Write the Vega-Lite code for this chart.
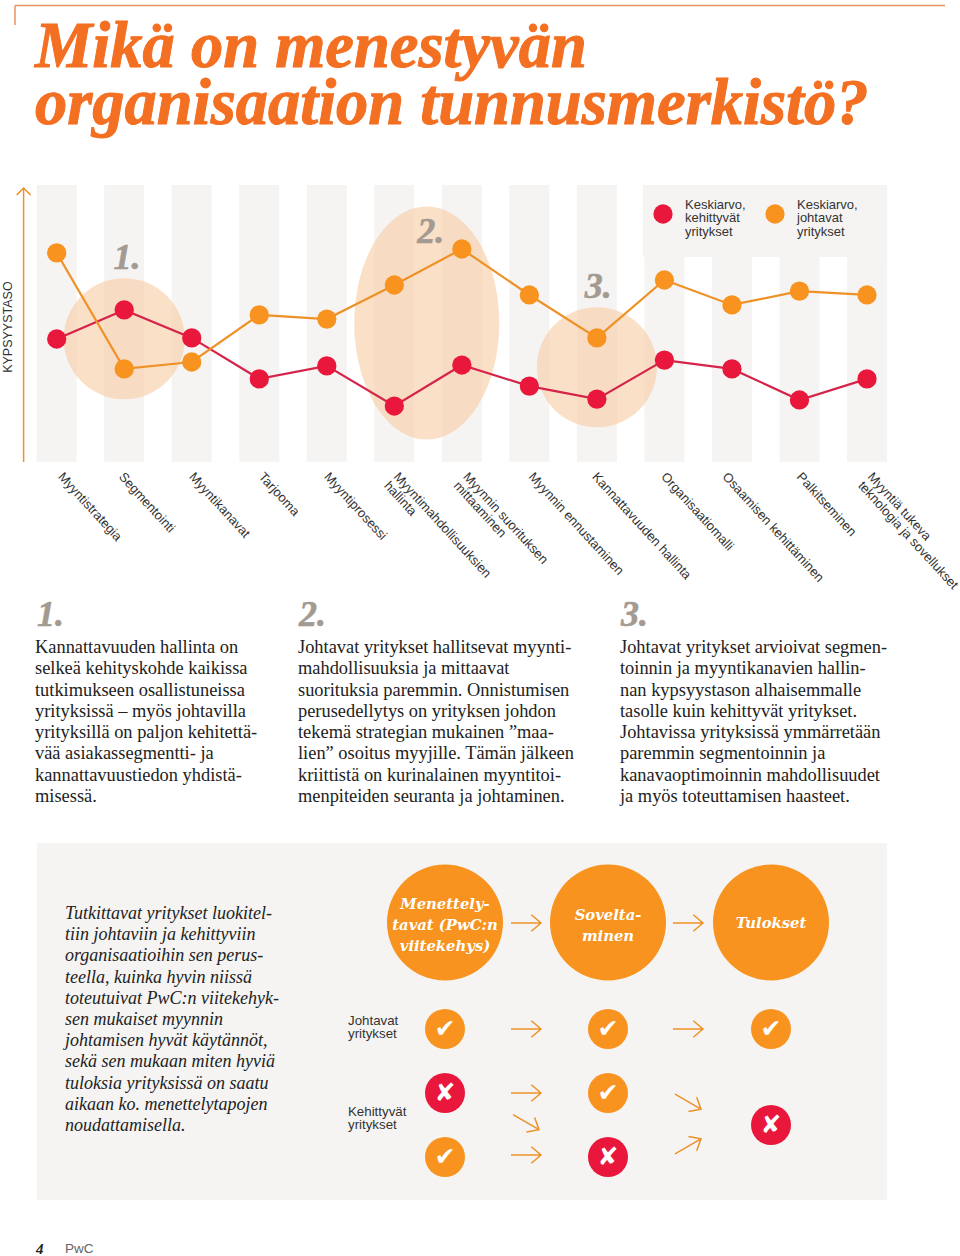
{
"$schema":"https://vega.github.io/schema/vega-lite/v6.json",
"width":960,"height":1256,"padding":0,"autosize":"none","background":"white",
"config":{"view":{"stroke":null}},
"resolve":{"scale":{"x":"independent","y":"independent","color":"independent"}},
"datasets":{
"categories":[
{"pos":1,"labelPos":1.06,"label":["Myyntistrategia"]},{"pos":2,"labelPos":1.96,"label":["Segmentointi"]},{"pos":3,"labelPos":3,"label":["Myyntikanavat"]},{"pos":4,"labelPos":4.03,"label":["Tarjooma"]},{"pos":5,"labelPos":5,"label":["Myyntiprosessi"]},{"pos":6,"labelPos":6.03,"label":["Myyntimahdollisuuksien","hallinta"]},{"pos":7,"labelPos":7.06,"label":["Myynnin suorituksen","mittaaminen"]},{"pos":8,"labelPos":8.03,"label":["Myynnin ennustaminen"]},{"pos":9,"labelPos":8.97,"label":["Kannattavuuden hallinta"]},{"pos":10,"labelPos":9.99,"label":["Organisaatiomalli"]},{"pos":11,"labelPos":10.9,"label":["Osaamisen kehittäminen"]},{"pos":12,"labelPos":12,"label":["Palkitseminen"]},{"pos":13,"labelPos":13.05,"label":["Myyntiä tukeva","teknologia ja sovellukset"]}],
"averages":[
{"pos":1,"series":"kehittyvät","value":44.4},{"pos":2,"series":"kehittyvät","value":54.9},{"pos":3,"series":"kehittyvät","value":44.8},{"pos":4,"series":"kehittyvät","value":30.0},{"pos":5,"series":"kehittyvät","value":34.7},{"pos":6,"series":"kehittyvät","value":20.2},{"pos":7,"series":"kehittyvät","value":35.0},{"pos":8,"series":"kehittyvät","value":27.4},{"pos":9,"series":"kehittyvät","value":22.7},{"pos":10,"series":"kehittyvät","value":36.8},{"pos":11,"series":"kehittyvät","value":33.6},{"pos":12,"series":"kehittyvät","value":22.4},{"pos":13,"series":"kehittyvät","value":30.0},
{"pos":1,"series":"johtavat","value":75.5},{"pos":2,"series":"johtavat","value":33.6},{"pos":3,"series":"johtavat","value":36.1},{"pos":4,"series":"johtavat","value":53.1},{"pos":5,"series":"johtavat","value":51.6},{"pos":6,"series":"johtavat","value":63.9},{"pos":7,"series":"johtavat","value":76.9},{"pos":8,"series":"johtavat","value":60.3},{"pos":9,"series":"johtavat","value":44.8},{"pos":10,"series":"johtavat","value":65.7},{"pos":11,"series":"johtavat","value":56.7},{"pos":12,"series":"johtavat","value":61.7},{"pos":13,"series":"johtavat","value":60.3}],
"paragraphs":[
{"col":1,"line":1,"text":"Kannattavuuden hallinta on"},{"col":1,"line":2,"text":"selkeä kehityskohde kaikissa"},{"col":1,"line":3,"text":"tutkimukseen osallistuneissa"},{"col":1,"line":4,"text":"yrityksissä – myös johtavilla"},{"col":1,"line":5,"text":"yrityksillä on paljon kehitettä-"},{"col":1,"line":6,"text":"vää asiakassegmentti- ja"},{"col":1,"line":7,"text":"kannattavuustiedon yhdistä-"},{"col":1,"line":8,"text":"misessä."},
{"col":2,"line":1,"text":"Johtavat yritykset hallitsevat myynti-"},{"col":2,"line":2,"text":"mahdollisuuksia ja mittaavat"},{"col":2,"line":3,"text":"suorituksia paremmin. Onnistumisen"},{"col":2,"line":4,"text":"perusedellytys on yrityksen johdon"},{"col":2,"line":5,"text":"tekemä strategian mukainen ”maa-"},{"col":2,"line":6,"text":"lien” osoitus myyjille. Tämän jälkeen"},{"col":2,"line":7,"text":"kriittistä on kurinalainen myyntitoi-"},{"col":2,"line":8,"text":"menpiteiden seuranta ja johtaminen."},
{"col":3,"line":1,"text":"Johtavat yritykset arvioivat segmen-"},{"col":3,"line":2,"text":"toinnin ja myyntikanavien hallin-"},{"col":3,"line":3,"text":"nan kypsyystason alhaisemmalle"},{"col":3,"line":4,"text":"tasolle kuin kehittyvät yritykset."},{"col":3,"line":5,"text":"Johtavissa yrityksissä ymmärretään"},{"col":3,"line":6,"text":"paremmin segmentoinnin ja"},{"col":3,"line":7,"text":"kanavaoptimoinnin mahdollisuudet"},{"col":3,"line":8,"text":"ja myös toteuttamisen haasteet."}],
"intro":[
{"line":1,"text":"Tutkittavat yritykset luokitel-"},{"line":2,"text":"tiin johtaviin ja kehittyviin"},{"line":3,"text":"organisaatioihin sen perus-"},{"line":4,"text":"teella, kuinka hyvin niissä"},{"line":5,"text":"toteutuivat PwC:n viitekehyk-"},{"line":6,"text":"sen mukaiset myynnin"},{"line":7,"text":"johtamisen hyvät käytännöt,"},{"line":8,"text":"sekä sen mukaan miten hyviä"},{"line":9,"text":"tuloksia yrityksissä on saatu"},{"line":10,"text":"aikaan ko. menettelytapojen"},{"line":11,"text":"noudattamisella."}],
"stages":[
{"stage":1,"row":0},{"stage":2,"row":0},{"stage":3,"row":0}],
"outcomes":[
{"stage":1,"row":1,"result":"ok","mark":"✔"},{"stage":2,"row":1,"result":"ok","mark":"✔"},{"stage":3,"row":1,"result":"ok","mark":"✔"},
{"stage":1,"row":2,"result":"fail","mark":"✘"},{"stage":2,"row":2,"result":"ok","mark":"✔"},
{"stage":1,"row":3,"result":"ok","mark":"✔"},{"stage":2,"row":3,"result":"fail","mark":"✘"},
{"stage":3,"row":2.5,"result":"fail","mark":"✘"}]
},
"layer":[
{"data":{"values":[{}]},
 "layer":[
  {"mark":{"type":"rule","stroke":"#e8935f","strokeWidth":1.5},
   "encoding":{"x":{"datum":0,"type":"quantitative","axis":null,"scale":{"domain":[0,1],"range":[15,945],"nice":false,"zero":false}},"x2":{"datum":1},"y":{"datum":0,"type":"quantitative","axis":null,"scale":{"domain":[0,1],"range":[5.5,25],"nice":false,"zero":false}}}},
  {"mark":{"type":"rule","stroke":"#e8935f","strokeWidth":1.5},
   "encoding":{"x":{"datum":0,"type":"quantitative","axis":null,"scale":{"domain":[0,1],"range":[15,945],"nice":false,"zero":false}},"y":{"datum":0,"type":"quantitative","axis":null,"scale":{"domain":[0,1],"range":[5.5,25],"nice":false,"zero":false}},"y2":{"datum":1}}}
 ]},
{"data":{"values":[{"line":1,"text":"Mikä on menestyvän"},{"line":2,"text":"organisaation tunnusmerkistö?"}]},
 "mark":{"type":"text","font":"Liberation Serif","fontWeight":"bold","fontStyle":"italic","fontSize":64.5,"align":"left","baseline":"middle","fill":"#f36f21","stroke":"#f36f21","strokeWidth":1},
 "encoding":{"x":{"datum":1,"type":"quantitative","axis":null,"scale":{"domain":[0,1],"range":[0,35],"nice":false,"zero":false}},"y":{"field":"line","type":"quantitative","axis":null,"scale":{"domain":[1,2],"range":[48,105],"nice":false,"zero":false}},"text":{"field":"text"}}},
{"data":{"name":"categories"},
 "resolve":{"scale":{"color":"independent"}},
 "layer":[
  {"mark":{"type":"bar","width":40,"fill":"#f5f4f2","orient":"vertical"},
   "encoding":{"x":{"field":"pos","type":"quantitative","axis":null,"scale":{"domain":[1,13],"range":[56.7,867],"nice":false,"zero":false,"padding":0}},"y":{"datum":0,"type":"quantitative","axis":null,"scale":{"domain":[0,100],"range":[462,185],"nice":false,"zero":false}},"y2":{"datum":100}}},
  {"data":{"values":[{"from":9.68,"to":13.3,"low":74,"high":100}]},
   "mark":{"type":"rect","fill":"#f5f4f2"},
   "encoding":{"x":{"field":"from","type":"quantitative","axis":null,"scale":{"domain":[1,13],"range":[56.7,867],"nice":false,"zero":false,"padding":0}},"x2":{"field":"to"},"y":{"field":"low","type":"quantitative","axis":null,"scale":{"domain":[0,100],"range":[462,185],"nice":false,"zero":false}},"y2":{"field":"high"}}},
  {"data":{"values":[{"pos":2,"value":44.5}]},
   "mark":{"type":"point","filled":true,"fill":"#f7c79a","opacity":0.55,"strokeWidth":0,"shape":"circle","size":14641},
   "encoding":{"x":{"field":"pos","type":"quantitative","axis":null,"scale":{"domain":[1,13],"range":[56.7,867],"nice":false,"zero":false,"padding":0}},"y":{"field":"value","type":"quantitative","axis":null,"scale":{"domain":[0,100],"range":[462,185],"nice":false,"zero":false}}}},
  {"data":{"values":[{"pos":6.48,"value":50.2}]},
   "mark":{"type":"point","filled":true,"fill":"#f7c79a","opacity":0.55,"strokeWidth":0,"shape":"M-0.622,0A0.622,1,0,1,1,0.622,0A0.622,1,0,1,1,-0.622,0Z","size":54289},
   "encoding":{"x":{"field":"pos","type":"quantitative","axis":null,"scale":{"domain":[1,13],"range":[56.7,867],"nice":false,"zero":false,"padding":0}},"y":{"field":"value","type":"quantitative","axis":null,"scale":{"domain":[0,100],"range":[462,185],"nice":false,"zero":false}}}},
  {"data":{"values":[{"pos":9,"value":34.2}]},
   "mark":{"type":"point","filled":true,"fill":"#f7c79a","opacity":0.55,"strokeWidth":0,"shape":"circle","size":14400},
   "encoding":{"x":{"field":"pos","type":"quantitative","axis":null,"scale":{"domain":[1,13],"range":[56.7,867],"nice":false,"zero":false,"padding":0}},"y":{"field":"value","type":"quantitative","axis":null,"scale":{"domain":[0,100],"range":[462,185],"nice":false,"zero":false}}}},
  {"data":{"name":"averages"},
   "mark":{"type":"line","strokeWidth":2.2},
   "encoding":{"x":{"field":"pos","type":"quantitative","axis":null,"scale":{"domain":[1,13],"range":[56.7,867],"nice":false,"zero":false,"padding":0}},"y":{"field":"value","type":"quantitative","axis":null,"scale":{"domain":[0,100],"range":[462,185],"nice":false,"zero":false}},"color":{"field":"series","type":"nominal","legend":null,"scale":{"domain":["kehittyvät","johtavat"],"range":["#d5234a","#ee9127"]}}}},
  {"data":{"name":"averages"},
   "mark":{"type":"circle","size":372,"opacity":1},
   "encoding":{"x":{"field":"pos","type":"quantitative","axis":null,"scale":{"domain":[1,13],"range":[56.7,867],"nice":false,"zero":false,"padding":0}},"y":{"field":"value","type":"quantitative","axis":null,"scale":{"domain":[0,100],"range":[462,185],"nice":false,"zero":false}},"color":{"field":"series","type":"nominal","legend":null,"scale":{"domain":["kehittyvät","johtavat"],"range":["#e8173b","#f7931e"]}}}},
  {"data":{"values":[{"pos":2.04,"value":73.6,"text":"1."},{"pos":6.54,"value":83,"text":"2."},{"pos":9.02,"value":63,"text":"3."}]},
   "mark":{"type":"text","font":"Liberation Serif","fontWeight":"bold","fontStyle":"italic","fontSize":36,"align":"center","baseline":"middle","fill":"#a39a92","stroke":"#a39a92","strokeWidth":0.6},
   "encoding":{"x":{"field":"pos","type":"quantitative","axis":null,"scale":{"domain":[1,13],"range":[56.7,867],"nice":false,"zero":false,"padding":0}},"y":{"field":"value","type":"quantitative","axis":null,"scale":{"domain":[0,100],"range":[462,185],"nice":false,"zero":false}},"text":{"field":"text"}}},
  {"mark":{"type":"text","font":"Liberation Sans","fontSize":13,"align":"left","baseline":"top","angle":47.5,"lineHeight":13,"fill":"#333333","xOffset":4},
   "encoding":{"x":{"field":"labelPos","type":"quantitative","axis":null,"scale":{"domain":[1,13],"range":[56.7,867],"nice":false,"zero":false,"padding":0}},"y":{"datum":-3.1,"type":"quantitative","axis":null,"scale":{"domain":[0,100],"range":[462,185],"nice":false,"zero":false}},"text":{"field":"label"}}},
  {"data":{"values":[{"pos":0.51,"low":0,"high":98.9}]},
   "mark":{"type":"rule","stroke":"#ee9127","strokeWidth":1.5},
   "encoding":{"x":{"field":"pos","type":"quantitative","axis":null,"scale":{"domain":[1,13],"range":[56.7,867],"nice":false,"zero":false,"padding":0}},"y":{"field":"low","type":"quantitative","axis":null,"scale":{"domain":[0,100],"range":[462,185],"nice":false,"zero":false}},"y2":{"field":"high"}}},
  {"data":{"values":[{"pos":0.51,"value":98.9}]},
   "mark":{"type":"point","filled":false,"stroke":"#ee9127","strokeWidth":1.5,"opacity":1,"shape":"M-1,1L0,0L1,1","size":196},
   "encoding":{"x":{"field":"pos","type":"quantitative","axis":null,"scale":{"domain":[1,13],"range":[56.7,867],"nice":false,"zero":false,"padding":0}},"y":{"field":"value","type":"quantitative","axis":null,"scale":{"domain":[0,100],"range":[462,185],"nice":false,"zero":false}}}},
  {"data":{"values":[{"pos":0.28,"value":48.7,"text":"KYPSYYSTASO"}]},
   "mark":{"type":"text","font":"Liberation Sans","fontSize":12.5,"align":"center","baseline":"middle","angle":270,"fill":"#333333"},
   "encoding":{"x":{"field":"pos","type":"quantitative","axis":null,"scale":{"domain":[1,13],"range":[56.7,867],"nice":false,"zero":false,"padding":0}},"y":{"field":"value","type":"quantitative","axis":null,"scale":{"domain":[0,100],"range":[462,185],"nice":false,"zero":false}},"text":{"field":"text"}}}
 ]},
{"data":{"values":[{"entry":1,"series":"kehittyvät"},{"entry":2,"series":"johtavat"}]},
 "mark":{"type":"circle","size":372,"opacity":1},
 "encoding":{"x":{"field":"entry","type":"quantitative","axis":null,"scale":{"domain":[1,2],"range":[663,775],"nice":false,"zero":false}},"y":{"datum":1,"type":"quantitative","axis":null,"scale":{"domain":[0,2],"range":[0,428],"nice":false,"zero":false}},"color":{"field":"series","type":"nominal","legend":null,"scale":{"domain":["kehittyvät","johtavat"],"range":["#e8173b","#f7931e"]}}}},
{"data":{"values":[{"entry":1,"line":1,"text":"Keskiarvo,"},{"entry":1,"line":2,"text":"kehittyvät"},{"entry":1,"line":3,"text":"yritykset"},{"entry":2,"line":1,"text":"Keskiarvo,"},{"entry":2,"line":2,"text":"johtavat"},{"entry":2,"line":3,"text":"yritykset"}]},
 "mark":{"type":"text","font":"Liberation Sans","fontSize":13,"align":"left","baseline":"middle","fill":"#333333"},
 "encoding":{"x":{"field":"entry","type":"quantitative","axis":null,"scale":{"domain":[1,2],"range":[685,797],"nice":false,"zero":false}},"y":{"field":"line","type":"quantitative","axis":null,"scale":{"domain":[1,3],"range":[205,231.5],"nice":false,"zero":false}},"text":{"field":"text"}}},
{"data":{"values":[{"col":1,"text":"1."},{"col":2,"text":"2."},{"col":3,"text":"3."}]},
 "mark":{"type":"text","font":"Liberation Serif","fontWeight":"bold","fontStyle":"italic","fontSize":36,"align":"left","baseline":"middle","fill":"#a39a92","stroke":"#a39a92","strokeWidth":0.6},
 "encoding":{"x":{"field":"col","type":"quantitative","axis":null,"scale":{"domain":[1,2,3],"range":[37,299,621],"nice":false,"zero":false}},"y":{"datum":1,"type":"quantitative","axis":null,"scale":{"domain":[0,1],"range":[0,615],"nice":false,"zero":false}},"text":{"field":"text"}}},
{"data":{"name":"paragraphs"},
 "mark":{"type":"text","font":"Liberation Serif","fontSize":18.4,"align":"left","baseline":"middle","fill":"#222222"},
 "encoding":{"x":{"field":"col","type":"quantitative","axis":null,"scale":{"domain":[1,2,3],"range":[35,298,620],"nice":false,"zero":false}},"y":{"field":"line","type":"quantitative","axis":null,"scale":{"domain":[1,8],"range":[647,796],"nice":false,"zero":false}},"text":{"field":"text"}}},
{"data":{"values":[{"from":0,"to":1,"low":0,"high":1}]},
 "mark":{"type":"rect","fill":"#f5f4f2"},
 "encoding":{"x":{"field":"from","type":"quantitative","axis":null,"scale":{"domain":[0,1],"range":[37,887],"nice":false,"zero":false}},"x2":{"field":"to"},"y":{"field":"low","type":"quantitative","axis":null,"scale":{"domain":[0,1],"range":[843,1200],"nice":false,"zero":false}},"y2":{"field":"high"}}},
{"data":{"name":"intro"},
 "mark":{"type":"text","font":"Liberation Serif","fontStyle":"italic","fontSize":18,"align":"left","baseline":"middle","fill":"#222222"},
 "encoding":{"x":{"datum":1,"type":"quantitative","axis":null,"scale":{"domain":[0,1],"range":[0,65],"nice":false,"zero":false}},"y":{"field":"line","type":"quantitative","axis":null,"scale":{"domain":[1,11],"range":[914,1126],"nice":false,"zero":false}},"text":{"field":"text"}}},
{"data":{"name":"stages"},
 "mark":{"type":"circle","size":13456,"opacity":1,"fill":"#f7931e"},
 "encoding":{"x":{"field":"stage","type":"quantitative","axis":null,"scale":{"domain":[1,3],"range":[445,771],"nice":false,"zero":false}},"y":{"field":"row","type":"quantitative","axis":null,"scale":{"domain":[0,1,2,3],"range":[922.5,1029,1093,1157],"nice":false,"zero":false}}}},
{"data":{"values":[{"stage":1,"place":-1,"text":"Menettely-"},{"stage":1,"place":0,"text":"tavat (PwC:n"},{"stage":1,"place":1,"text":"viitekehys)"},{"stage":2,"place":-0.5,"text":"Sovelta-"},{"stage":2,"place":0.5,"text":"minen"},{"stage":3,"place":-0.1,"text":"Tulokset"}]},
 "mark":{"type":"text","font":"DejaVu Serif","fontWeight":"bold","fontStyle":"italic","fontSize":14.8,"align":"center","baseline":"middle","fill":"#ffffff"},
 "encoding":{"x":{"field":"stage","type":"quantitative","axis":null,"scale":{"domain":[1,3],"range":[445,771],"nice":false,"zero":false}},"y":{"field":"place","type":"quantitative","axis":null,"scale":{"domain":[-1,1],"range":[905,947],"nice":false,"zero":false}},"text":{"field":"text"}}},
{"data":{"values":[{"line":1,"text":"Johtavat"},{"line":2,"text":"yritykset"},{"line":3,"text":"Kehittyvät"},{"line":4,"text":"yritykset"}]},
 "mark":{"type":"text","font":"Liberation Sans","fontSize":13.3,"align":"left","baseline":"middle","fill":"#333333"},
 "encoding":{"x":{"datum":1,"type":"quantitative","axis":null,"scale":{"domain":[0,1],"range":[0,348],"nice":false,"zero":false}},"y":{"field":"line","type":"quantitative","axis":null,"scale":{"domain":[1,2,3,4],"range":[1021,1034,1112,1125],"nice":false,"zero":false}},"text":{"field":"text"}}},
{"data":{"name":"outcomes"},
 "layer":[
  {"mark":{"type":"circle","size":1600,"opacity":1},
   "encoding":{"x":{"field":"stage","type":"quantitative","axis":null,"scale":{"domain":[1,3],"range":[445,771],"nice":false,"zero":false}},"y":{"field":"row","type":"quantitative","axis":null,"scale":{"domain":[0,1,2,3],"range":[923,1029,1093,1157],"nice":false,"zero":false}},"color":{"field":"result","type":"nominal","legend":null,"scale":{"domain":["ok","fail"],"range":["#f7931e","#e8173b"]}}}},
  {"mark":{"type":"text","font":"DejaVu Sans","fontSize":25,"align":"center","baseline":"middle","fill":"#ffffff"},
   "encoding":{"x":{"field":"stage","type":"quantitative","axis":null,"scale":{"domain":[1,3],"range":[445,771],"nice":false,"zero":false}},"y":{"field":"row","type":"quantitative","axis":null,"scale":{"domain":[0,1,2,3],"range":[923,1029,1093,1157],"nice":false,"zero":false}},"text":{"field":"mark"}}}
 ]},
{"data":{"values":[{"gap":1,"row":0,"turn":0},{"gap":2,"row":0,"turn":0},{"gap":1,"row":1,"turn":0},{"gap":2,"row":1,"turn":0},{"gap":1,"row":2,"turn":0},{"gap":1,"row":2.47,"turn":30},{"gap":1,"row":3,"turn":0},{"gap":2,"row":2.14,"turn":30},{"gap":2,"row":2.86,"turn":-30}]},
 "mark":{"type":"point","filled":false,"stroke":"#ee9127","strokeWidth":1.5,"opacity":1,"shape":"M-1,0L1,0M0.35,-0.55L1,0L0.35,0.55","size":900},
 "encoding":{"x":{"field":"gap","type":"quantitative","axis":null,"scale":{"domain":[1,2],"range":[526,688],"nice":false,"zero":false}},"y":{"field":"row","type":"quantitative","axis":null,"scale":{"domain":[0,1,2,3],"range":[923,1029,1093,1155],"nice":false,"zero":false}},"angle":{"field":"turn","type":"quantitative","scale":null}}},
{"data":{"values":[{"item":1,"text":"4"}]},
 "mark":{"type":"text","font":"Liberation Serif","fontWeight":"bold","fontStyle":"italic","fontSize":15,"align":"left","baseline":"middle","fill":"#222222"},
 "encoding":{"x":{"field":"item","type":"quantitative","axis":null,"scale":{"domain":[0,1],"range":[0,36],"nice":false,"zero":false}},"y":{"datum":1,"type":"quantitative","axis":null,"scale":{"domain":[0,1],"range":[0,1249],"nice":false,"zero":false}},"text":{"field":"text"}}},
{"data":{"values":[{"item":1,"text":"PwC"}]},
 "mark":{"type":"text","font":"Liberation Sans","fontSize":13.5,"align":"left","baseline":"middle","fill":"#666666"},
 "encoding":{"x":{"field":"item","type":"quantitative","axis":null,"scale":{"domain":[0,1],"range":[0,65],"nice":false,"zero":false}},"y":{"datum":1,"type":"quantitative","axis":null,"scale":{"domain":[0,1],"range":[0,1249],"nice":false,"zero":false}},"text":{"field":"text"}}}
]
}
